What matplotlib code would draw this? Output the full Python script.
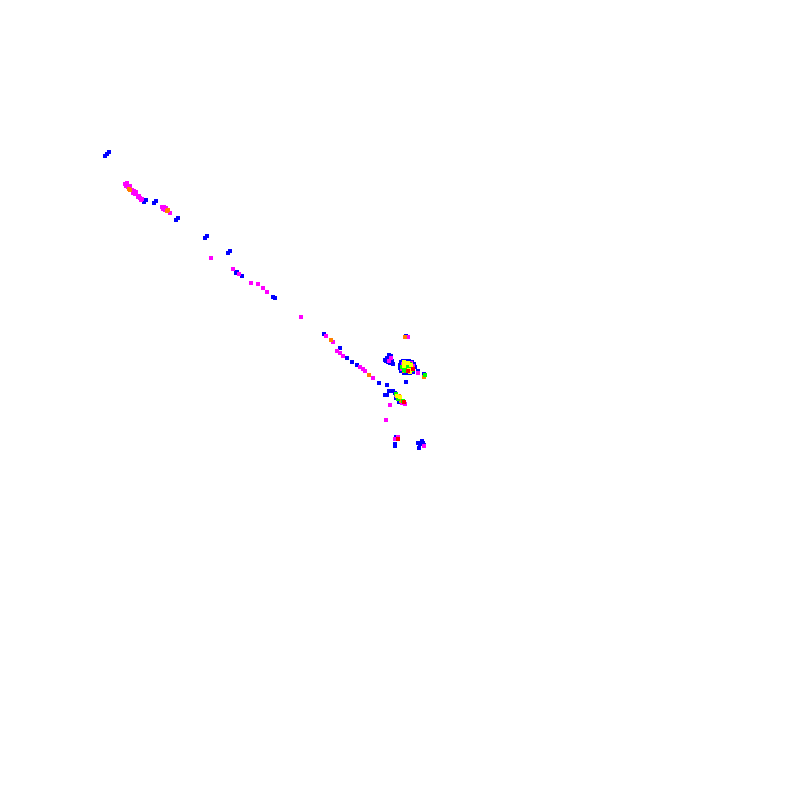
import matplotlib
matplotlib.use("Agg")
import matplotlib.pyplot as plt

# point positions (in a 0..800 coordinate system, y downward)
blue_x = [105,107,109,144,146,154,156,176,178,205,207,228,230,236,237,242,263,273,275,324,340,347,352,357,379,387,389,385,387,406,
          389,391,387,389,386,388,390,392,385,393,
          401,403,406,409,412,414,415,400,400,401,404,407,410,413,
          418,424,406,393,395,396,399,396,395,395,422,423,424,420,418,419]
blue_y = [156,154,152,202,200,203,201,220,218,238,236,253,251,273,272,276,288,297,298,334,348,358,362,365,383,385,391,395,395,382,
          355,356,358,359,361,362,363,361,360,364,
          362,361,361,361,362,364,367,365,368,371,373,373,373,372,
          371,374,336,391,393,398,402,437,444,446,441,443,445,444,443,448]

magenta_x = [125,127,126,128,130,132,134,136,133,135,138,140,142,139,141,162,164,163,165,166,170,
             211,233,239,251,258,263,267,301,326,333,337,340,343,360,363,365,373,390,386,408,
             403,408,411,405,413,402,406,409,403,411,391,389,418,396,400,402,405,398,398,395,424]
magenta_y = [184,183,186,187,186,190,191,192,193,194,197,198,199,196,200,207,207,209,210,208,213,
             258,269,274,283,284,288,292,317,336,342,351,353,356,367,369,371,378,405,420,337,
             364,366,370,369,366,369,366,368,368,363,358,361,373,395,399,403,404,397,437,439,446]

orange_x = [130,129,167,168,331,369,405,407,412,404,399,401,424]
orange_y = [190,189,211,210,340,375,337,363,368,371,396,401,377]

green_x = [405,410,402,407,410,406,407,404,412,396,398,403,425]
green_y = [364,364,367,368,367,371,365,370,370,394,399,401,375]

yellow_x = [404,408,411,409,404,406,410,397,400]
yellow_y = [362,363,365,370,366,363,372,396,397]

red_x = [408,413,398,404]
red_y = [371,369,439,402]

groups = [
    (blue_x, blue_y, "#0000ff"),
    (magenta_x, magenta_y, "#ff00ff"),
    (orange_x, orange_y, "#ff8000"),
    (green_x, green_y, "#00ff00"),
    (yellow_x, yellow_y, "#ffff00"),
    (red_x, red_y, "#ff0000"),
]

fig = plt.figure(figsize=(8, 8), dpi=100)
ax = fig.add_axes([0, 0, 1, 1])
for xs, ys, c in groups:
    ax.scatter(xs, ys, s=6, marker="s", color=c, linewidths=0)
ax.set_xlim(0, 800)
ax.set_ylim(800, 0)
ax.axis("off")
fig.savefig("out.png", dpi=100, facecolor="white")
